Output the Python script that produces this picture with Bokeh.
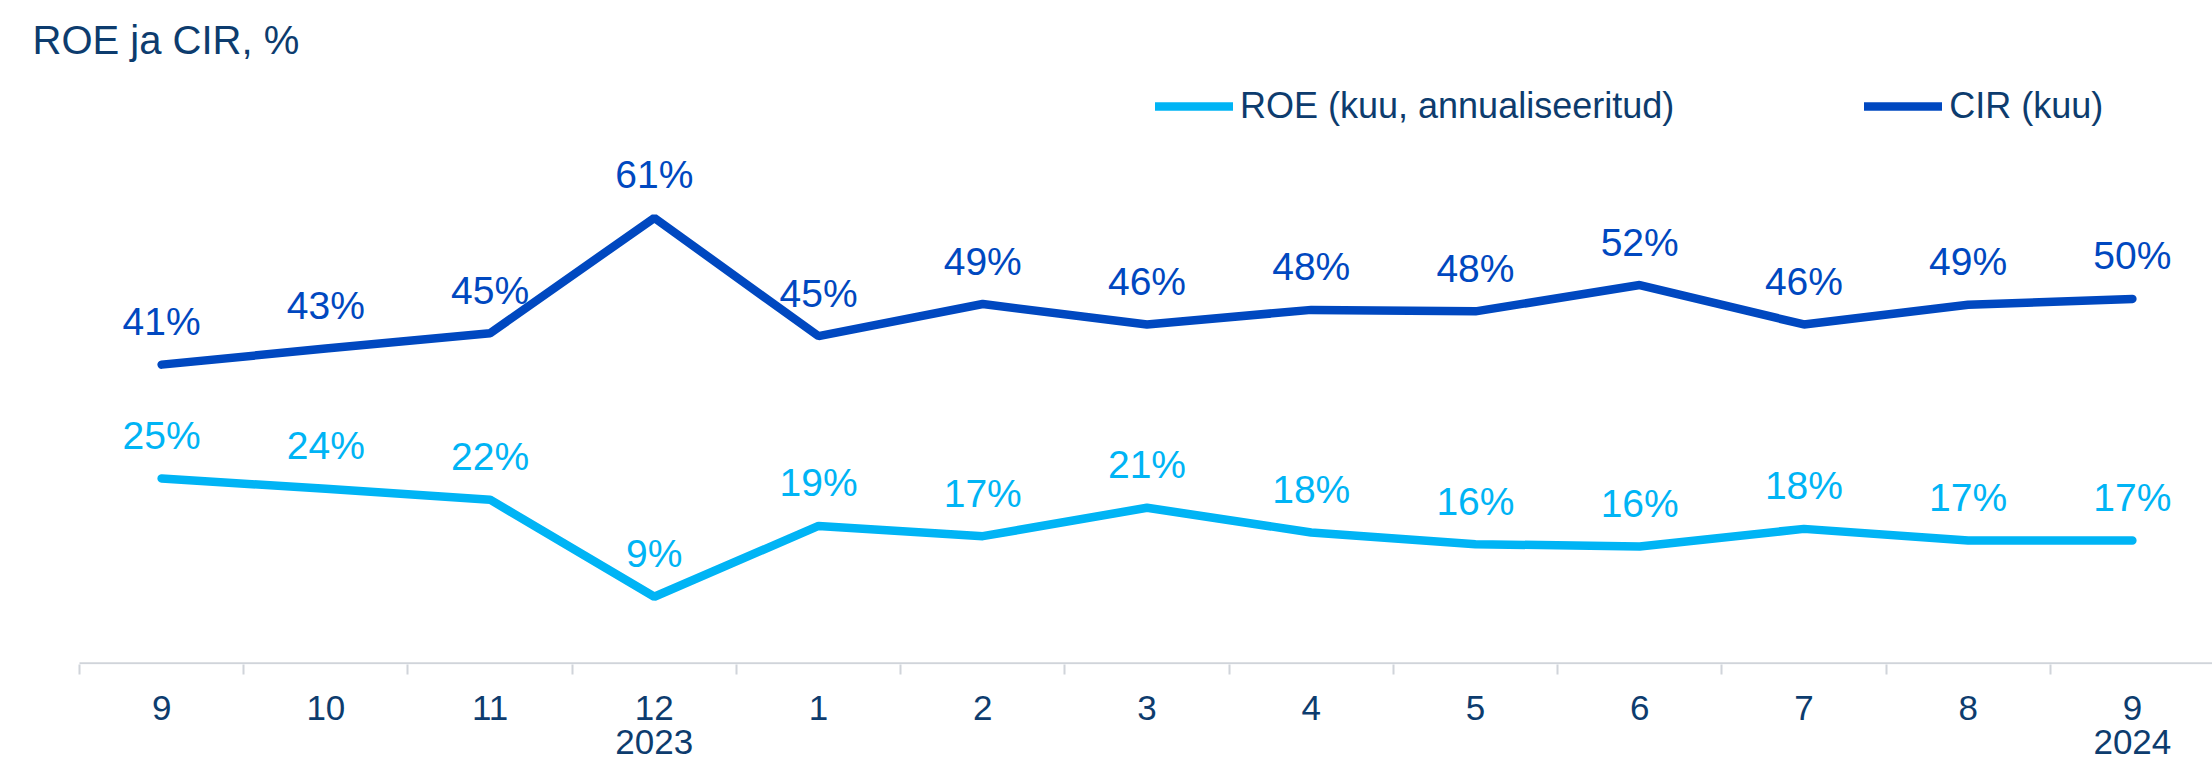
from bokeh.plotting import figure
from bokeh.models import ColumnDataSource, Range1d, FixedTicker, LinearAxis, Label, Legend, LegendItem
from bokeh.core.properties import value
from bokeh.embed import file_html
from bokeh.resources import INLINE

# ---- data ----
months = ["9", "10", "11", "12", "1", "2", "3", "4", "5", "6", "7", "8", "9"]
years = {3: "2023", 12: "2024"}
roe = [25.3, 23.9, 22.4, 9.1, 18.8, 17.4, 21.3, 17.9, 16.3, 16.0, 18.4, 16.8, 16.8]
cir = [40.9, 43.1, 45.2, 61.0, 44.8, 49.2, 46.4, 48.4, 48.2, 51.8, 46.4, 49.1, 49.9]
roe_name = "ROE (kuu, annualiseeritud)"
cir_name = "CIR (kuu)"
title_text = "ROE ja CIR, %"

# ---- styles ----
FONT = "Liberation Sans"
NAVY = "#0D3C6E"
CIR_C = "#0048C0"
ROE_C = "#00B4F5"
GRID_C = "#D0D4DA"

xs = list(range(len(months)))
src = ColumnDataSource(dict(
    x=xs,
    roe=roe, cir=cir,
    roe_lbl=[f"{round(v)}%" for v in roe],
    cir_lbl=[f"{round(v)}%" for v in cir],
))

W, H = 2212, 764
BB = 100
frame_h = H - BB          # 664
axis_y = 662.7            # pixel row of value 0
ppu = 7.3                 # pixels per percentage point
cat_w = 164.23
left_edge = 79            # pixel of first category boundary

x0 = -0.5 - left_edge / cat_w
x1 = x0 + W / cat_w
y_top = axis_y / ppu
y_bot = -(frame_h - axis_y) / ppu

p = figure(width=W, height=H, output_backend="svg", toolbar_location=None,
           x_range=Range1d(x0, x1), y_range=Range1d(y_bot, y_top),
           x_axis_location=None, y_axis_location=None,
           min_border_left=0, min_border_right=0, min_border_top=0, min_border_bottom=BB)
p.outline_line_color = None
p.xgrid.visible = False
p.ygrid.visible = False
p.background_fill_color = "white"
p.border_fill_color = "white"

# month axis (labels at centres, minor ticks at category boundaries)
ax = LinearAxis(ticker=FixedTicker(ticks=xs, minor_ticks=[i - 0.5 for i in range(len(months) + 1)]),
                major_label_overrides={i: m for i, m in enumerate(months)})
ax.axis_line_color = None
ax.major_tick_line_color = None
ax.major_tick_out = 0
ax.major_tick_in = 0
ax.minor_tick_line_color = GRID_C
ax.minor_tick_line_width = 2
ax.minor_tick_out = 10
ax.minor_tick_in = 0
ax.major_label_standoff = 21
ax.major_label_text_font = FONT
ax.major_label_text_font_size = "35px"
ax.major_label_text_color = NAVY
p.add_layout(ax, "below")

# year axis
ay = LinearAxis(ticker=FixedTicker(ticks=list(years.keys())),
                major_label_overrides=dict(years))
ay.axis_line_color = None
ay.major_tick_line_color = None
ay.minor_tick_line_color = None
ay.major_tick_out = 0
ay.major_tick_in = 0
ay.major_label_standoff = 7
ay.major_label_text_font = FONT
ay.major_label_text_font_size = "35px"
ay.major_label_text_color = NAVY
p.add_layout(ay, "below")

# baseline of the category axis
p.segment(x0=[-0.5], y0=[0], x1=[len(months) - 0.5], y1=[0], line_color=GRID_C, line_width=2)

r_roe = p.line("x", "roe", source=src, line_color=ROE_C, line_width=8.5, line_cap="round")
r_cir = p.line("x", "cir", source=src, line_color=CIR_C, line_width=8.5, line_cap="round")

for col, lbl, c in (("roe", "roe_lbl", ROE_C), ("cir", "cir_lbl", CIR_C)):
    p.text("x", col, text=lbl, source=src, text_align="center", text_baseline="alphabetic",
           y_offset=-43, text_font=value(FONT), text_font_size="39px", text_color=c)

legend = Legend(items=[LegendItem(label=roe_name, renderers=[r_roe]),
                       LegendItem(label=cir_name, renderers=[r_cir])],
                orientation="horizontal", location=(1155, 537))
legend.glyph_width = 78
legend.glyph_height = 20
legend.label_standoff = 7
legend.spacing = 190
legend.padding = 0
legend.margin = 0
legend.border_line_color = None
legend.background_fill_alpha = 0
legend.label_text_font = FONT
legend.label_text_font_size = "36px"
legend.label_text_color = NAVY
p.add_layout(legend, "center")

title = Label(x=32, y=frame_h - 39, x_units="screen", y_units="screen", text=title_text,
              text_font=FONT, text_font_size="40px", text_color=NAVY, text_baseline="alphabetic")
p.add_layout(title)

open("out.html", "w").write(file_html(p, INLINE))
